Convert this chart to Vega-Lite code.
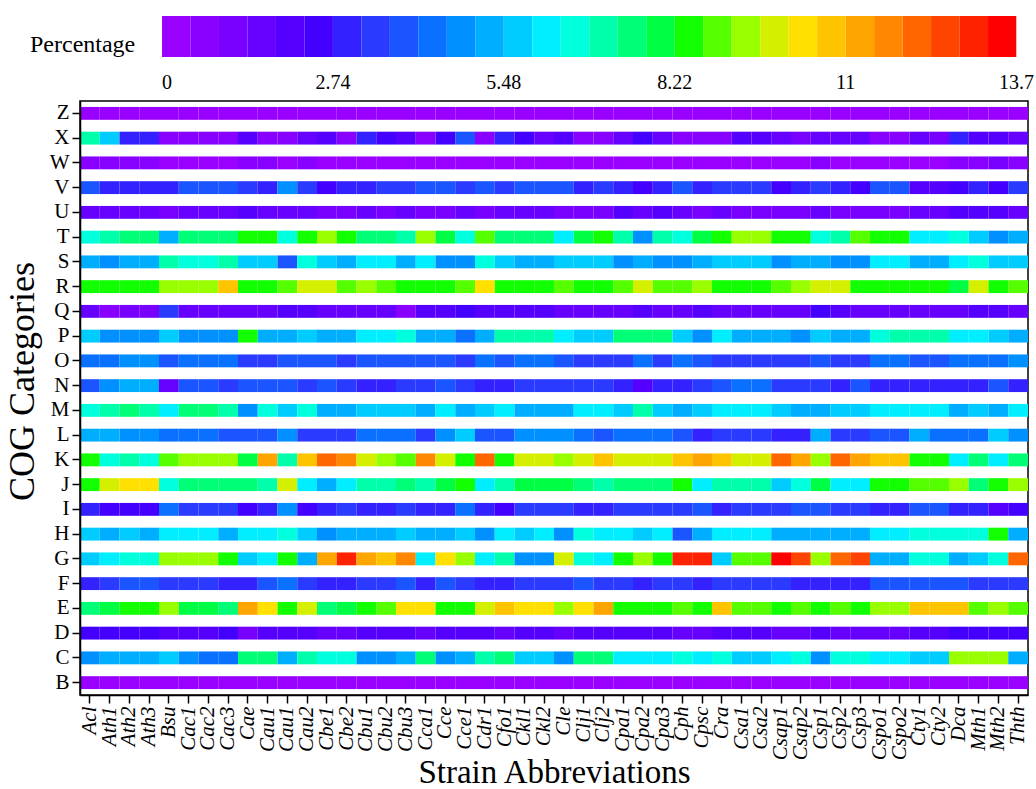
{"$schema":"https://vega.github.io/schema/vega-lite/v6.json","width":948,"height":594,"autosize":"none","padding":{"left":80,"top":101,"right":8,"bottom":94},"background":"white","config":{"view":{"stroke":"black","strokeWidth":1.5},"font":"Liberation Serif"},
"data":{"values":[
{"cog":"Z","strain":"Acl","pct":0.23},{"cog":"Z","strain":"Ath1","pct":0.23},{"cog":"Z","strain":"Ath2","pct":0.23},{"cog":"Z","strain":"Ath3","pct":0.23},{"cog":"Z","strain":"Bsu","pct":0.23},{"cog":"Z","strain":"Cac1","pct":0.23},{"cog":"Z","strain":"Cac2","pct":0.23},{"cog":"Z","strain":"Cac3","pct":0.23},{"cog":"Z","strain":"Cae","pct":0.23},{"cog":"Z","strain":"Cau1","pct":0.23},{"cog":"Z","strain":"Cau1\u200b","pct":0.23},{"cog":"Z","strain":"Cau2","pct":0.23},{"cog":"Z","strain":"Cbe1","pct":0.23},{"cog":"Z","strain":"Cbe2","pct":0.23},{"cog":"Z","strain":"Cbu1","pct":0.23},{"cog":"Z","strain":"Cbu2","pct":0.23},{"cog":"Z","strain":"Cbu3","pct":0.23},{"cog":"Z","strain":"Cca1","pct":0.23},{"cog":"Z","strain":"Cce","pct":0.23},{"cog":"Z","strain":"Cce1","pct":0.23},{"cog":"Z","strain":"Cdr1","pct":0.23},{"cog":"Z","strain":"Cfo1","pct":0.23},{"cog":"Z","strain":"Ckl1","pct":0.23},{"cog":"Z","strain":"Ckl2","pct":0.23},{"cog":"Z","strain":"Cle","pct":0.23},{"cog":"Z","strain":"Clj1","pct":0.23},{"cog":"Z","strain":"Clj2","pct":0.23},{"cog":"Z","strain":"Cpa1","pct":0.23},{"cog":"Z","strain":"Cpa2","pct":0.23},{"cog":"Z","strain":"Cpa3","pct":0.23},{"cog":"Z","strain":"Cph","pct":0.23},{"cog":"Z","strain":"Cpsc","pct":0.23},{"cog":"Z","strain":"Cra","pct":0.23},{"cog":"Z","strain":"Csa1","pct":0.23},{"cog":"Z","strain":"Csa2","pct":0.23},{"cog":"Z","strain":"Csap1","pct":0.23},{"cog":"Z","strain":"Csap2","pct":0.23},{"cog":"Z","strain":"Csp1","pct":0.23},{"cog":"Z","strain":"Csp2","pct":0.23},{"cog":"Z","strain":"Csp3","pct":0.23},{"cog":"Z","strain":"Cspo1","pct":0.23},{"cog":"Z","strain":"Cspo2","pct":0.23},{"cog":"Z","strain":"Cty1","pct":0.23},{"cog":"Z","strain":"Cty2","pct":0.23},{"cog":"Z","strain":"Dca","pct":0.23},{"cog":"Z","strain":"Mth1","pct":0.23},{"cog":"Z","strain":"Mth2","pct":0.23},{"cog":"Z","strain":"Thth","pct":0.23},
{"cog":"X","strain":"Acl","pct":7.08},{"cog":"X","strain":"Ath1","pct":5.71},{"cog":"X","strain":"Ath2","pct":2.97},{"cog":"X","strain":"Ath3","pct":2.97},{"cog":"X","strain":"Bsu","pct":0.68},{"cog":"X","strain":"Cac1","pct":0.68},{"cog":"X","strain":"Cac2","pct":0.68},{"cog":"X","strain":"Cac3","pct":0.68},{"cog":"X","strain":"Cae","pct":2.06},{"cog":"X","strain":"Cau1","pct":0.68},{"cog":"X","strain":"Cau1\u200b","pct":0.68},{"cog":"X","strain":"Cau2","pct":1.6},{"cog":"X","strain":"Cbe1","pct":2.06},{"cog":"X","strain":"Cbe2","pct":0.68},{"cog":"X","strain":"Cbu1","pct":2.97},{"cog":"X","strain":"Cbu2","pct":2.51},{"cog":"X","strain":"Cbu3","pct":2.06},{"cog":"X","strain":"Cca1","pct":0.68},{"cog":"X","strain":"Cce","pct":2.51},{"cog":"X","strain":"Cce1","pct":3.88},{"cog":"X","strain":"Cdr1","pct":0.68},{"cog":"X","strain":"Cfo1","pct":2.97},{"cog":"X","strain":"Ckl1","pct":2.51},{"cog":"X","strain":"Ckl2","pct":1.6},{"cog":"X","strain":"Cle","pct":2.06},{"cog":"X","strain":"Clj1","pct":0.68},{"cog":"X","strain":"Clj2","pct":0.68},{"cog":"X","strain":"Cpa1","pct":1.6},{"cog":"X","strain":"Cpa2","pct":2.51},{"cog":"X","strain":"Cpa3","pct":1.6},{"cog":"X","strain":"Cph","pct":0.68},{"cog":"X","strain":"Cpsc","pct":0.68},{"cog":"X","strain":"Cra","pct":0.68},{"cog":"X","strain":"Csa1","pct":2.06},{"cog":"X","strain":"Csa2","pct":2.06},{"cog":"X","strain":"Csap1","pct":1.6},{"cog":"X","strain":"Csap2","pct":1.14},{"cog":"X","strain":"Csp1","pct":1.6},{"cog":"X","strain":"Csp2","pct":1.6},{"cog":"X","strain":"Csp3","pct":1.6},{"cog":"X","strain":"Cspo1","pct":0.68},{"cog":"X","strain":"Cspo2","pct":0.68},{"cog":"X","strain":"Cty1","pct":1.6},{"cog":"X","strain":"Cty2","pct":1.14},{"cog":"X","strain":"Dca","pct":2.97},{"cog":"X","strain":"Mth1","pct":2.06},{"cog":"X","strain":"Mth2","pct":2.06},{"cog":"X","strain":"Thth","pct":1.6},
{"cog":"W","strain":"Acl","pct":0.68},{"cog":"W","strain":"Ath1","pct":0.68},{"cog":"W","strain":"Ath2","pct":0.68},{"cog":"W","strain":"Ath3","pct":0.68},{"cog":"W","strain":"Bsu","pct":0.23},{"cog":"W","strain":"Cac1","pct":0.23},{"cog":"W","strain":"Cac2","pct":0.23},{"cog":"W","strain":"Cac3","pct":0.23},{"cog":"W","strain":"Cae","pct":0.68},{"cog":"W","strain":"Cau1","pct":0.68},{"cog":"W","strain":"Cau1\u200b","pct":0.23},{"cog":"W","strain":"Cau2","pct":0.68},{"cog":"W","strain":"Cbe1","pct":0.23},{"cog":"W","strain":"Cbe2","pct":0.23},{"cog":"W","strain":"Cbu1","pct":0.23},{"cog":"W","strain":"Cbu2","pct":0.23},{"cog":"W","strain":"Cbu3","pct":0.23},{"cog":"W","strain":"Cca1","pct":0.23},{"cog":"W","strain":"Cce","pct":0.23},{"cog":"W","strain":"Cce1","pct":0.23},{"cog":"W","strain":"Cdr1","pct":0.23},{"cog":"W","strain":"Cfo1","pct":0.23},{"cog":"W","strain":"Ckl1","pct":0.23},{"cog":"W","strain":"Ckl2","pct":0.23},{"cog":"W","strain":"Cle","pct":0.23},{"cog":"W","strain":"Clj1","pct":0.23},{"cog":"W","strain":"Clj2","pct":0.23},{"cog":"W","strain":"Cpa1","pct":0.23},{"cog":"W","strain":"Cpa2","pct":0.23},{"cog":"W","strain":"Cpa3","pct":0.23},{"cog":"W","strain":"Cph","pct":0.23},{"cog":"W","strain":"Cpsc","pct":0.23},{"cog":"W","strain":"Cra","pct":0.23},{"cog":"W","strain":"Csa1","pct":0.23},{"cog":"W","strain":"Csa2","pct":0.23},{"cog":"W","strain":"Csap1","pct":0.23},{"cog":"W","strain":"Csap2","pct":0.23},{"cog":"W","strain":"Csp1","pct":0.68},{"cog":"W","strain":"Csp2","pct":0.23},{"cog":"W","strain":"Csp3","pct":0.23},{"cog":"W","strain":"Cspo1","pct":0.23},{"cog":"W","strain":"Cspo2","pct":0.23},{"cog":"W","strain":"Cty1","pct":0.23},{"cog":"W","strain":"Cty2","pct":0.23},{"cog":"W","strain":"Dca","pct":0.68},{"cog":"W","strain":"Mth1","pct":0.68},{"cog":"W","strain":"Mth2","pct":1.14},{"cog":"W","strain":"Thth","pct":0.68},
{"cog":"V","strain":"Acl","pct":3.88},{"cog":"V","strain":"Ath1","pct":2.97},{"cog":"V","strain":"Ath2","pct":2.97},{"cog":"V","strain":"Ath3","pct":2.97},{"cog":"V","strain":"Bsu","pct":2.97},{"cog":"V","strain":"Cac1","pct":3.88},{"cog":"V","strain":"Cac2","pct":3.88},{"cog":"V","strain":"Cac3","pct":3.88},{"cog":"V","strain":"Cae","pct":3.43},{"cog":"V","strain":"Cau1","pct":2.97},{"cog":"V","strain":"Cau1\u200b","pct":4.8},{"cog":"V","strain":"Cau2","pct":3.43},{"cog":"V","strain":"Cbe1","pct":2.51},{"cog":"V","strain":"Cbe2","pct":2.97},{"cog":"V","strain":"Cbu1","pct":2.97},{"cog":"V","strain":"Cbu2","pct":3.43},{"cog":"V","strain":"Cbu3","pct":3.43},{"cog":"V","strain":"Cca1","pct":3.88},{"cog":"V","strain":"Cce","pct":3.88},{"cog":"V","strain":"Cce1","pct":3.43},{"cog":"V","strain":"Cdr1","pct":3.88},{"cog":"V","strain":"Cfo1","pct":3.43},{"cog":"V","strain":"Ckl1","pct":3.88},{"cog":"V","strain":"Ckl2","pct":3.88},{"cog":"V","strain":"Cle","pct":3.88},{"cog":"V","strain":"Clj1","pct":2.97},{"cog":"V","strain":"Clj2","pct":3.43},{"cog":"V","strain":"Cpa1","pct":2.97},{"cog":"V","strain":"Cpa2","pct":2.51},{"cog":"V","strain":"Cpa3","pct":2.97},{"cog":"V","strain":"Cph","pct":3.88},{"cog":"V","strain":"Cpsc","pct":2.97},{"cog":"V","strain":"Cra","pct":3.43},{"cog":"V","strain":"Csa1","pct":3.43},{"cog":"V","strain":"Csa2","pct":3.43},{"cog":"V","strain":"Csap1","pct":2.51},{"cog":"V","strain":"Csap2","pct":2.97},{"cog":"V","strain":"Csp1","pct":3.43},{"cog":"V","strain":"Csp2","pct":2.97},{"cog":"V","strain":"Csp3","pct":2.51},{"cog":"V","strain":"Cspo1","pct":3.88},{"cog":"V","strain":"Cspo2","pct":3.88},{"cog":"V","strain":"Cty1","pct":2.06},{"cog":"V","strain":"Cty2","pct":2.06},{"cog":"V","strain":"Dca","pct":2.51},{"cog":"V","strain":"Mth1","pct":2.97},{"cog":"V","strain":"Mth2","pct":2.51},{"cog":"V","strain":"Thth","pct":3.43},
{"cog":"U","strain":"Acl","pct":1.6},{"cog":"U","strain":"Ath1","pct":1.6},{"cog":"U","strain":"Ath2","pct":1.6},{"cog":"U","strain":"Ath3","pct":1.6},{"cog":"U","strain":"Bsu","pct":1.14},{"cog":"U","strain":"Cac1","pct":1.6},{"cog":"U","strain":"Cac2","pct":1.6},{"cog":"U","strain":"Cac3","pct":1.6},{"cog":"U","strain":"Cae","pct":2.06},{"cog":"U","strain":"Cau1","pct":1.6},{"cog":"U","strain":"Cau1\u200b","pct":1.6},{"cog":"U","strain":"Cau2","pct":1.6},{"cog":"U","strain":"Cbe1","pct":1.14},{"cog":"U","strain":"Cbe2","pct":1.14},{"cog":"U","strain":"Cbu1","pct":1.6},{"cog":"U","strain":"Cbu2","pct":1.14},{"cog":"U","strain":"Cbu3","pct":1.6},{"cog":"U","strain":"Cca1","pct":1.14},{"cog":"U","strain":"Cce","pct":1.14},{"cog":"U","strain":"Cce1","pct":1.6},{"cog":"U","strain":"Cdr1","pct":1.14},{"cog":"U","strain":"Cfo1","pct":1.6},{"cog":"U","strain":"Ckl1","pct":1.6},{"cog":"U","strain":"Ckl2","pct":1.6},{"cog":"U","strain":"Cle","pct":1.14},{"cog":"U","strain":"Clj1","pct":1.14},{"cog":"U","strain":"Clj2","pct":1.14},{"cog":"U","strain":"Cpa1","pct":2.06},{"cog":"U","strain":"Cpa2","pct":1.6},{"cog":"U","strain":"Cpa3","pct":2.06},{"cog":"U","strain":"Cph","pct":1.6},{"cog":"U","strain":"Cpsc","pct":1.14},{"cog":"U","strain":"Cra","pct":1.6},{"cog":"U","strain":"Csa1","pct":1.14},{"cog":"U","strain":"Csa2","pct":1.14},{"cog":"U","strain":"Csap1","pct":1.14},{"cog":"U","strain":"Csap2","pct":1.14},{"cog":"U","strain":"Csp1","pct":1.6},{"cog":"U","strain":"Csp2","pct":1.14},{"cog":"U","strain":"Csp3","pct":1.14},{"cog":"U","strain":"Cspo1","pct":1.14},{"cog":"U","strain":"Cspo2","pct":1.14},{"cog":"U","strain":"Cty1","pct":1.6},{"cog":"U","strain":"Cty2","pct":1.6},{"cog":"U","strain":"Dca","pct":2.06},{"cog":"U","strain":"Mth1","pct":2.06},{"cog":"U","strain":"Mth2","pct":2.06},{"cog":"U","strain":"Thth","pct":1.6},
{"cog":"T","strain":"Acl","pct":6.62},{"cog":"T","strain":"Ath1","pct":7.08},{"cog":"T","strain":"Ath2","pct":7.54},{"cog":"T","strain":"Ath3","pct":7.54},{"cog":"T","strain":"Bsu","pct":5.25},{"cog":"T","strain":"Cac1","pct":7.54},{"cog":"T","strain":"Cac2","pct":7.54},{"cog":"T","strain":"Cac3","pct":7.54},{"cog":"T","strain":"Cae","pct":8.45},{"cog":"T","strain":"Cau1","pct":8.45},{"cog":"T","strain":"Cau1\u200b","pct":6.62},{"cog":"T","strain":"Cau2","pct":8.45},{"cog":"T","strain":"Cbe1","pct":9.36},{"cog":"T","strain":"Cbe2","pct":8.45},{"cog":"T","strain":"Cbu1","pct":7.54},{"cog":"T","strain":"Cbu2","pct":7.54},{"cog":"T","strain":"Cbu3","pct":7.08},{"cog":"T","strain":"Cca1","pct":9.36},{"cog":"T","strain":"Cce","pct":7.99},{"cog":"T","strain":"Cce1","pct":6.62},{"cog":"T","strain":"Cdr1","pct":8.91},{"cog":"T","strain":"Cfo1","pct":7.54},{"cog":"T","strain":"Ckl1","pct":7.54},{"cog":"T","strain":"Ckl2","pct":7.54},{"cog":"T","strain":"Cle","pct":6.17},{"cog":"T","strain":"Clj1","pct":7.99},{"cog":"T","strain":"Clj2","pct":8.45},{"cog":"T","strain":"Cpa1","pct":7.08},{"cog":"T","strain":"Cpa2","pct":4.8},{"cog":"T","strain":"Cpa3","pct":7.08},{"cog":"T","strain":"Cph","pct":6.62},{"cog":"T","strain":"Cpsc","pct":7.99},{"cog":"T","strain":"Cra","pct":8.45},{"cog":"T","strain":"Csa1","pct":9.36},{"cog":"T","strain":"Csa2","pct":9.36},{"cog":"T","strain":"Csap1","pct":8.45},{"cog":"T","strain":"Csap2","pct":8.45},{"cog":"T","strain":"Csp1","pct":6.62},{"cog":"T","strain":"Csp2","pct":7.08},{"cog":"T","strain":"Csp3","pct":8.91},{"cog":"T","strain":"Cspo1","pct":8.45},{"cog":"T","strain":"Cspo2","pct":8.45},{"cog":"T","strain":"Cty1","pct":6.17},{"cog":"T","strain":"Cty2","pct":6.17},{"cog":"T","strain":"Dca","pct":6.62},{"cog":"T","strain":"Mth1","pct":5.71},{"cog":"T","strain":"Mth2","pct":4.8},{"cog":"T","strain":"Thth","pct":5.25},
{"cog":"S","strain":"Acl","pct":5.25},{"cog":"S","strain":"Ath1","pct":4.8},{"cog":"S","strain":"Ath2","pct":5.25},{"cog":"S","strain":"Ath3","pct":5.25},{"cog":"S","strain":"Bsu","pct":7.08},{"cog":"S","strain":"Cac1","pct":6.62},{"cog":"S","strain":"Cac2","pct":6.62},{"cog":"S","strain":"Cac3","pct":7.08},{"cog":"S","strain":"Cae","pct":5.71},{"cog":"S","strain":"Cau1","pct":5.71},{"cog":"S","strain":"Cau1\u200b","pct":3.88},{"cog":"S","strain":"Cau2","pct":6.62},{"cog":"S","strain":"Cbe1","pct":5.71},{"cog":"S","strain":"Cbe2","pct":5.25},{"cog":"S","strain":"Cbu1","pct":6.17},{"cog":"S","strain":"Cbu2","pct":6.17},{"cog":"S","strain":"Cbu3","pct":5.25},{"cog":"S","strain":"Cca1","pct":6.17},{"cog":"S","strain":"Cce","pct":4.8},{"cog":"S","strain":"Cce1","pct":4.8},{"cog":"S","strain":"Cdr1","pct":6.62},{"cog":"S","strain":"Cfo1","pct":5.71},{"cog":"S","strain":"Ckl1","pct":5.25},{"cog":"S","strain":"Ckl2","pct":5.25},{"cog":"S","strain":"Cle","pct":5.71},{"cog":"S","strain":"Clj1","pct":5.71},{"cog":"S","strain":"Clj2","pct":5.71},{"cog":"S","strain":"Cpa1","pct":4.8},{"cog":"S","strain":"Cpa2","pct":5.25},{"cog":"S","strain":"Cpa3","pct":4.8},{"cog":"S","strain":"Cph","pct":4.8},{"cog":"S","strain":"Cpsc","pct":5.25},{"cog":"S","strain":"Cra","pct":5.71},{"cog":"S","strain":"Csa1","pct":5.71},{"cog":"S","strain":"Csa2","pct":5.71},{"cog":"S","strain":"Csap1","pct":4.8},{"cog":"S","strain":"Csap2","pct":5.25},{"cog":"S","strain":"Csp1","pct":5.25},{"cog":"S","strain":"Csp2","pct":4.8},{"cog":"S","strain":"Csp3","pct":4.8},{"cog":"S","strain":"Cspo1","pct":6.17},{"cog":"S","strain":"Cspo2","pct":6.17},{"cog":"S","strain":"Cty1","pct":5.25},{"cog":"S","strain":"Cty2","pct":5.25},{"cog":"S","strain":"Dca","pct":6.17},{"cog":"S","strain":"Mth1","pct":6.62},{"cog":"S","strain":"Mth2","pct":5.71},{"cog":"S","strain":"Thth","pct":5.71},
{"cog":"R","strain":"Acl","pct":8.45},{"cog":"R","strain":"Ath1","pct":8.45},{"cog":"R","strain":"Ath2","pct":8.45},{"cog":"R","strain":"Ath3","pct":8.45},{"cog":"R","strain":"Bsu","pct":9.36},{"cog":"R","strain":"Cac1","pct":9.36},{"cog":"R","strain":"Cac2","pct":9.36},{"cog":"R","strain":"Cac3","pct":10.73},{"cog":"R","strain":"Cae","pct":8.45},{"cog":"R","strain":"Cau1","pct":8.45},{"cog":"R","strain":"Cau1\u200b","pct":8.91},{"cog":"R","strain":"Cau2","pct":9.82},{"cog":"R","strain":"Cbe1","pct":9.82},{"cog":"R","strain":"Cbe2","pct":8.91},{"cog":"R","strain":"Cbu1","pct":9.36},{"cog":"R","strain":"Cbu2","pct":8.91},{"cog":"R","strain":"Cbu3","pct":8.45},{"cog":"R","strain":"Cca1","pct":8.45},{"cog":"R","strain":"Cce","pct":8.45},{"cog":"R","strain":"Cce1","pct":8.91},{"cog":"R","strain":"Cdr1","pct":10.28},{"cog":"R","strain":"Cfo1","pct":8.45},{"cog":"R","strain":"Ckl1","pct":8.45},{"cog":"R","strain":"Ckl2","pct":8.45},{"cog":"R","strain":"Cle","pct":8.91},{"cog":"R","strain":"Clj1","pct":8.45},{"cog":"R","strain":"Clj2","pct":8.45},{"cog":"R","strain":"Cpa1","pct":8.91},{"cog":"R","strain":"Cpa2","pct":9.82},{"cog":"R","strain":"Cpa3","pct":8.91},{"cog":"R","strain":"Cph","pct":8.91},{"cog":"R","strain":"Cpsc","pct":9.36},{"cog":"R","strain":"Cra","pct":8.45},{"cog":"R","strain":"Csa1","pct":8.45},{"cog":"R","strain":"Csa2","pct":8.45},{"cog":"R","strain":"Csap1","pct":8.91},{"cog":"R","strain":"Csap2","pct":9.36},{"cog":"R","strain":"Csp1","pct":9.82},{"cog":"R","strain":"Csp2","pct":9.82},{"cog":"R","strain":"Csp3","pct":8.45},{"cog":"R","strain":"Cspo1","pct":8.45},{"cog":"R","strain":"Cspo2","pct":8.45},{"cog":"R","strain":"Cty1","pct":8.45},{"cog":"R","strain":"Cty2","pct":8.45},{"cog":"R","strain":"Dca","pct":7.99},{"cog":"R","strain":"Mth1","pct":9.82},{"cog":"R","strain":"Mth2","pct":8.45},{"cog":"R","strain":"Thth","pct":8.91},
{"cog":"Q","strain":"Acl","pct":1.6},{"cog":"Q","strain":"Ath1","pct":0.68},{"cog":"Q","strain":"Ath2","pct":1.14},{"cog":"Q","strain":"Ath3","pct":1.14},{"cog":"Q","strain":"Bsu","pct":3.43},{"cog":"Q","strain":"Cac1","pct":1.6},{"cog":"Q","strain":"Cac2","pct":1.6},{"cog":"Q","strain":"Cac3","pct":1.6},{"cog":"Q","strain":"Cae","pct":1.6},{"cog":"Q","strain":"Cau1","pct":1.6},{"cog":"Q","strain":"Cau1\u200b","pct":2.06},{"cog":"Q","strain":"Cau2","pct":2.06},{"cog":"Q","strain":"Cbe1","pct":1.6},{"cog":"Q","strain":"Cbe2","pct":1.6},{"cog":"Q","strain":"Cbu1","pct":1.6},{"cog":"Q","strain":"Cbu2","pct":1.6},{"cog":"Q","strain":"Cbu3","pct":0.68},{"cog":"Q","strain":"Cca1","pct":2.06},{"cog":"Q","strain":"Cce","pct":2.06},{"cog":"Q","strain":"Cce1","pct":2.51},{"cog":"Q","strain":"Cdr1","pct":2.06},{"cog":"Q","strain":"Cfo1","pct":2.06},{"cog":"Q","strain":"Ckl1","pct":2.06},{"cog":"Q","strain":"Ckl2","pct":2.06},{"cog":"Q","strain":"Cle","pct":1.6},{"cog":"Q","strain":"Clj1","pct":1.6},{"cog":"Q","strain":"Clj2","pct":1.6},{"cog":"Q","strain":"Cpa1","pct":1.6},{"cog":"Q","strain":"Cpa2","pct":2.06},{"cog":"Q","strain":"Cpa3","pct":1.6},{"cog":"Q","strain":"Cph","pct":1.6},{"cog":"Q","strain":"Cpsc","pct":2.06},{"cog":"Q","strain":"Cra","pct":1.6},{"cog":"Q","strain":"Csa1","pct":1.6},{"cog":"Q","strain":"Csa2","pct":1.6},{"cog":"Q","strain":"Csap1","pct":1.6},{"cog":"Q","strain":"Csap2","pct":1.6},{"cog":"Q","strain":"Csp1","pct":2.51},{"cog":"Q","strain":"Csp2","pct":2.06},{"cog":"Q","strain":"Csp3","pct":1.6},{"cog":"Q","strain":"Cspo1","pct":1.6},{"cog":"Q","strain":"Cspo2","pct":1.6},{"cog":"Q","strain":"Cty1","pct":1.6},{"cog":"Q","strain":"Cty2","pct":1.6},{"cog":"Q","strain":"Dca","pct":1.6},{"cog":"Q","strain":"Mth1","pct":2.06},{"cog":"Q","strain":"Mth2","pct":2.06},{"cog":"Q","strain":"Thth","pct":1.6},
{"cog":"P","strain":"Acl","pct":5.71},{"cog":"P","strain":"Ath1","pct":4.8},{"cog":"P","strain":"Ath2","pct":4.8},{"cog":"P","strain":"Ath3","pct":4.8},{"cog":"P","strain":"Bsu","pct":5.71},{"cog":"P","strain":"Cac1","pct":4.8},{"cog":"P","strain":"Cac2","pct":4.8},{"cog":"P","strain":"Cac3","pct":4.8},{"cog":"P","strain":"Cae","pct":8.45},{"cog":"P","strain":"Cau1","pct":5.25},{"cog":"P","strain":"Cau1\u200b","pct":5.25},{"cog":"P","strain":"Cau2","pct":5.71},{"cog":"P","strain":"Cbe1","pct":5.25},{"cog":"P","strain":"Cbe2","pct":5.25},{"cog":"P","strain":"Cbu1","pct":6.17},{"cog":"P","strain":"Cbu2","pct":6.17},{"cog":"P","strain":"Cbu3","pct":6.62},{"cog":"P","strain":"Cca1","pct":5.25},{"cog":"P","strain":"Cce","pct":5.25},{"cog":"P","strain":"Cce1","pct":4.34},{"cog":"P","strain":"Cdr1","pct":5.25},{"cog":"P","strain":"Cfo1","pct":7.08},{"cog":"P","strain":"Ckl1","pct":7.08},{"cog":"P","strain":"Ckl2","pct":7.08},{"cog":"P","strain":"Cle","pct":6.17},{"cog":"P","strain":"Clj1","pct":5.71},{"cog":"P","strain":"Clj2","pct":5.71},{"cog":"P","strain":"Cpa1","pct":7.54},{"cog":"P","strain":"Cpa2","pct":7.54},{"cog":"P","strain":"Cpa3","pct":7.54},{"cog":"P","strain":"Cph","pct":5.71},{"cog":"P","strain":"Cpsc","pct":4.8},{"cog":"P","strain":"Cra","pct":6.17},{"cog":"P","strain":"Csa1","pct":5.25},{"cog":"P","strain":"Csa2","pct":5.25},{"cog":"P","strain":"Csap1","pct":5.25},{"cog":"P","strain":"Csap2","pct":4.8},{"cog":"P","strain":"Csp1","pct":5.71},{"cog":"P","strain":"Csp2","pct":5.25},{"cog":"P","strain":"Csp3","pct":5.25},{"cog":"P","strain":"Cspo1","pct":6.62},{"cog":"P","strain":"Cspo2","pct":7.08},{"cog":"P","strain":"Cty1","pct":7.08},{"cog":"P","strain":"Cty2","pct":7.08},{"cog":"P","strain":"Dca","pct":6.17},{"cog":"P","strain":"Mth1","pct":6.17},{"cog":"P","strain":"Mth2","pct":5.71},{"cog":"P","strain":"Thth","pct":5.25},
{"cog":"O","strain":"Acl","pct":4.34},{"cog":"O","strain":"Ath1","pct":4.34},{"cog":"O","strain":"Ath2","pct":4.8},{"cog":"O","strain":"Ath3","pct":4.8},{"cog":"O","strain":"Bsu","pct":3.88},{"cog":"O","strain":"Cac1","pct":4.34},{"cog":"O","strain":"Cac2","pct":4.34},{"cog":"O","strain":"Cac3","pct":4.34},{"cog":"O","strain":"Cae","pct":3.43},{"cog":"O","strain":"Cau1","pct":3.43},{"cog":"O","strain":"Cau1\u200b","pct":3.88},{"cog":"O","strain":"Cau2","pct":3.88},{"cog":"O","strain":"Cbe1","pct":3.88},{"cog":"O","strain":"Cbe2","pct":3.43},{"cog":"O","strain":"Cbu1","pct":3.88},{"cog":"O","strain":"Cbu2","pct":3.88},{"cog":"O","strain":"Cbu3","pct":3.88},{"cog":"O","strain":"Cca1","pct":3.88},{"cog":"O","strain":"Cce","pct":3.88},{"cog":"O","strain":"Cce1","pct":3.43},{"cog":"O","strain":"Cdr1","pct":4.34},{"cog":"O","strain":"Cfo1","pct":3.88},{"cog":"O","strain":"Ckl1","pct":4.34},{"cog":"O","strain":"Ckl2","pct":4.34},{"cog":"O","strain":"Cle","pct":3.88},{"cog":"O","strain":"Clj1","pct":3.43},{"cog":"O","strain":"Clj2","pct":3.43},{"cog":"O","strain":"Cpa1","pct":3.43},{"cog":"O","strain":"Cpa2","pct":4.34},{"cog":"O","strain":"Cpa3","pct":3.43},{"cog":"O","strain":"Cph","pct":4.34},{"cog":"O","strain":"Cpsc","pct":3.88},{"cog":"O","strain":"Cra","pct":3.43},{"cog":"O","strain":"Csa1","pct":3.43},{"cog":"O","strain":"Csa2","pct":3.43},{"cog":"O","strain":"Csap1","pct":3.43},{"cog":"O","strain":"Csap2","pct":3.43},{"cog":"O","strain":"Csp1","pct":3.88},{"cog":"O","strain":"Csp2","pct":3.43},{"cog":"O","strain":"Csp3","pct":3.43},{"cog":"O","strain":"Cspo1","pct":4.34},{"cog":"O","strain":"Cspo2","pct":4.34},{"cog":"O","strain":"Cty1","pct":3.88},{"cog":"O","strain":"Cty2","pct":3.88},{"cog":"O","strain":"Dca","pct":4.34},{"cog":"O","strain":"Mth1","pct":4.34},{"cog":"O","strain":"Mth2","pct":4.34},{"cog":"O","strain":"Thth","pct":4.8},
{"cog":"N","strain":"Acl","pct":3.88},{"cog":"N","strain":"Ath1","pct":4.8},{"cog":"N","strain":"Ath2","pct":5.25},{"cog":"N","strain":"Ath3","pct":5.25},{"cog":"N","strain":"Bsu","pct":1.6},{"cog":"N","strain":"Cac1","pct":3.88},{"cog":"N","strain":"Cac2","pct":3.88},{"cog":"N","strain":"Cac3","pct":3.43},{"cog":"N","strain":"Cae","pct":3.88},{"cog":"N","strain":"Cau1","pct":3.88},{"cog":"N","strain":"Cau1\u200b","pct":3.88},{"cog":"N","strain":"Cau2","pct":3.43},{"cog":"N","strain":"Cbe1","pct":3.88},{"cog":"N","strain":"Cbe2","pct":3.43},{"cog":"N","strain":"Cbu1","pct":2.97},{"cog":"N","strain":"Cbu2","pct":2.97},{"cog":"N","strain":"Cbu3","pct":3.43},{"cog":"N","strain":"Cca1","pct":3.43},{"cog":"N","strain":"Cce","pct":3.88},{"cog":"N","strain":"Cce1","pct":3.43},{"cog":"N","strain":"Cdr1","pct":2.97},{"cog":"N","strain":"Cfo1","pct":2.97},{"cog":"N","strain":"Ckl1","pct":3.43},{"cog":"N","strain":"Ckl2","pct":3.43},{"cog":"N","strain":"Cle","pct":3.43},{"cog":"N","strain":"Clj1","pct":3.43},{"cog":"N","strain":"Clj2","pct":3.43},{"cog":"N","strain":"Cpa1","pct":2.97},{"cog":"N","strain":"Cpa2","pct":2.06},{"cog":"N","strain":"Cpa3","pct":2.97},{"cog":"N","strain":"Cph","pct":2.97},{"cog":"N","strain":"Cpsc","pct":3.43},{"cog":"N","strain":"Cra","pct":3.88},{"cog":"N","strain":"Csa1","pct":4.34},{"cog":"N","strain":"Csa2","pct":4.34},{"cog":"N","strain":"Csap1","pct":3.43},{"cog":"N","strain":"Csap2","pct":3.43},{"cog":"N","strain":"Csp1","pct":3.43},{"cog":"N","strain":"Csp2","pct":2.97},{"cog":"N","strain":"Csp3","pct":3.88},{"cog":"N","strain":"Cspo1","pct":2.97},{"cog":"N","strain":"Cspo2","pct":2.97},{"cog":"N","strain":"Cty1","pct":2.97},{"cog":"N","strain":"Cty2","pct":2.97},{"cog":"N","strain":"Dca","pct":2.97},{"cog":"N","strain":"Mth1","pct":2.97},{"cog":"N","strain":"Mth2","pct":3.88},{"cog":"N","strain":"Thth","pct":2.97},
{"cog":"M","strain":"Acl","pct":6.62},{"cog":"M","strain":"Ath1","pct":7.08},{"cog":"M","strain":"Ath2","pct":7.54},{"cog":"M","strain":"Ath3","pct":7.08},{"cog":"M","strain":"Bsu","pct":6.17},{"cog":"M","strain":"Cac1","pct":7.54},{"cog":"M","strain":"Cac2","pct":7.54},{"cog":"M","strain":"Cac3","pct":7.08},{"cog":"M","strain":"Cae","pct":4.8},{"cog":"M","strain":"Cau1","pct":6.62},{"cog":"M","strain":"Cau1\u200b","pct":5.71},{"cog":"M","strain":"Cau2","pct":6.62},{"cog":"M","strain":"Cbe1","pct":5.25},{"cog":"M","strain":"Cbe2","pct":5.25},{"cog":"M","strain":"Cbu1","pct":5.71},{"cog":"M","strain":"Cbu2","pct":5.71},{"cog":"M","strain":"Cbu3","pct":5.71},{"cog":"M","strain":"Cca1","pct":5.25},{"cog":"M","strain":"Cce","pct":6.17},{"cog":"M","strain":"Cce1","pct":5.25},{"cog":"M","strain":"Cdr1","pct":5.71},{"cog":"M","strain":"Cfo1","pct":6.17},{"cog":"M","strain":"Ckl1","pct":5.25},{"cog":"M","strain":"Ckl2","pct":5.25},{"cog":"M","strain":"Cle","pct":5.25},{"cog":"M","strain":"Clj1","pct":6.17},{"cog":"M","strain":"Clj2","pct":6.17},{"cog":"M","strain":"Cpa1","pct":5.71},{"cog":"M","strain":"Cpa2","pct":7.08},{"cog":"M","strain":"Cpa3","pct":5.71},{"cog":"M","strain":"Cph","pct":5.25},{"cog":"M","strain":"Cpsc","pct":5.71},{"cog":"M","strain":"Cra","pct":6.17},{"cog":"M","strain":"Csa1","pct":6.17},{"cog":"M","strain":"Csa2","pct":6.17},{"cog":"M","strain":"Csap1","pct":5.71},{"cog":"M","strain":"Csap2","pct":5.25},{"cog":"M","strain":"Csp1","pct":5.25},{"cog":"M","strain":"Csp2","pct":5.71},{"cog":"M","strain":"Csp3","pct":5.71},{"cog":"M","strain":"Cspo1","pct":6.17},{"cog":"M","strain":"Cspo2","pct":6.17},{"cog":"M","strain":"Cty1","pct":6.17},{"cog":"M","strain":"Cty2","pct":6.17},{"cog":"M","strain":"Dca","pct":5.25},{"cog":"M","strain":"Mth1","pct":5.71},{"cog":"M","strain":"Mth2","pct":5.25},{"cog":"M","strain":"Thth","pct":6.17},
{"cog":"L","strain":"Acl","pct":5.25},{"cog":"L","strain":"Ath1","pct":5.25},{"cog":"L","strain":"Ath2","pct":4.8},{"cog":"L","strain":"Ath3","pct":4.8},{"cog":"L","strain":"Bsu","pct":4.34},{"cog":"L","strain":"Cac1","pct":4.34},{"cog":"L","strain":"Cac2","pct":4.34},{"cog":"L","strain":"Cac3","pct":3.88},{"cog":"L","strain":"Cae","pct":3.88},{"cog":"L","strain":"Cau1","pct":3.88},{"cog":"L","strain":"Cau1\u200b","pct":4.8},{"cog":"L","strain":"Cau2","pct":3.43},{"cog":"L","strain":"Cbe1","pct":3.43},{"cog":"L","strain":"Cbe2","pct":3.43},{"cog":"L","strain":"Cbu1","pct":4.34},{"cog":"L","strain":"Cbu2","pct":4.34},{"cog":"L","strain":"Cbu3","pct":4.34},{"cog":"L","strain":"Cca1","pct":3.43},{"cog":"L","strain":"Cce","pct":4.8},{"cog":"L","strain":"Cce1","pct":5.71},{"cog":"L","strain":"Cdr1","pct":3.88},{"cog":"L","strain":"Cfo1","pct":3.88},{"cog":"L","strain":"Ckl1","pct":4.8},{"cog":"L","strain":"Ckl2","pct":4.8},{"cog":"L","strain":"Cle","pct":4.8},{"cog":"L","strain":"Clj1","pct":4.34},{"cog":"L","strain":"Clj2","pct":3.88},{"cog":"L","strain":"Cpa1","pct":4.34},{"cog":"L","strain":"Cpa2","pct":4.34},{"cog":"L","strain":"Cpa3","pct":4.34},{"cog":"L","strain":"Cph","pct":3.88},{"cog":"L","strain":"Cpsc","pct":2.97},{"cog":"L","strain":"Cra","pct":3.43},{"cog":"L","strain":"Csa1","pct":3.43},{"cog":"L","strain":"Csa2","pct":3.43},{"cog":"L","strain":"Csap1","pct":2.97},{"cog":"L","strain":"Csap2","pct":2.97},{"cog":"L","strain":"Csp1","pct":5.25},{"cog":"L","strain":"Csp2","pct":3.43},{"cog":"L","strain":"Csp3","pct":3.43},{"cog":"L","strain":"Cspo1","pct":3.88},{"cog":"L","strain":"Cspo2","pct":3.88},{"cog":"L","strain":"Cty1","pct":5.25},{"cog":"L","strain":"Cty2","pct":4.34},{"cog":"L","strain":"Dca","pct":4.34},{"cog":"L","strain":"Mth1","pct":4.34},{"cog":"L","strain":"Mth2","pct":5.71},{"cog":"L","strain":"Thth","pct":4.8},
{"cog":"K","strain":"Acl","pct":8.45},{"cog":"K","strain":"Ath1","pct":6.62},{"cog":"K","strain":"Ath2","pct":7.08},{"cog":"K","strain":"Ath3","pct":6.62},{"cog":"K","strain":"Bsu","pct":8.91},{"cog":"K","strain":"Cac1","pct":9.36},{"cog":"K","strain":"Cac2","pct":9.36},{"cog":"K","strain":"Cac3","pct":9.36},{"cog":"K","strain":"Cae","pct":7.99},{"cog":"K","strain":"Cau1","pct":11.19},{"cog":"K","strain":"Cau1\u200b","pct":7.08},{"cog":"K","strain":"Cau2","pct":10.73},{"cog":"K","strain":"Cbe1","pct":12.1},{"cog":"K","strain":"Cbe2","pct":11.65},{"cog":"K","strain":"Cbu1","pct":9.82},{"cog":"K","strain":"Cbu2","pct":9.36},{"cog":"K","strain":"Cbu3","pct":8.91},{"cog":"K","strain":"Cca1","pct":11.65},{"cog":"K","strain":"Cce","pct":9.82},{"cog":"K","strain":"Cce1","pct":8.45},{"cog":"K","strain":"Cdr1","pct":12.1},{"cog":"K","strain":"Cfo1","pct":8.45},{"cog":"K","strain":"Ckl1","pct":9.82},{"cog":"K","strain":"Ckl2","pct":9.82},{"cog":"K","strain":"Cle","pct":9.36},{"cog":"K","strain":"Clj1","pct":9.82},{"cog":"K","strain":"Clj2","pct":10.73},{"cog":"K","strain":"Cpa1","pct":9.82},{"cog":"K","strain":"Cpa2","pct":9.82},{"cog":"K","strain":"Cpa3","pct":9.82},{"cog":"K","strain":"Cph","pct":10.73},{"cog":"K","strain":"Cpsc","pct":11.19},{"cog":"K","strain":"Cra","pct":10.73},{"cog":"K","strain":"Csa1","pct":9.82},{"cog":"K","strain":"Csa2","pct":9.82},{"cog":"K","strain":"Csap1","pct":12.1},{"cog":"K","strain":"Csap2","pct":11.19},{"cog":"K","strain":"Csp1","pct":9.36},{"cog":"K","strain":"Csp2","pct":12.1},{"cog":"K","strain":"Csp3","pct":11.19},{"cog":"K","strain":"Cspo1","pct":10.73},{"cog":"K","strain":"Cspo2","pct":10.73},{"cog":"K","strain":"Cty1","pct":8.45},{"cog":"K","strain":"Cty2","pct":8.45},{"cog":"K","strain":"Dca","pct":6.17},{"cog":"K","strain":"Mth1","pct":7.54},{"cog":"K","strain":"Mth2","pct":6.17},{"cog":"K","strain":"Thth","pct":7.54},
{"cog":"J","strain":"Acl","pct":8.45},{"cog":"J","strain":"Ath1","pct":9.82},{"cog":"J","strain":"Ath2","pct":10.28},{"cog":"J","strain":"Ath3","pct":10.28},{"cog":"J","strain":"Bsu","pct":6.62},{"cog":"J","strain":"Cac1","pct":7.54},{"cog":"J","strain":"Cac2","pct":7.54},{"cog":"J","strain":"Cac3","pct":7.54},{"cog":"J","strain":"Cae","pct":7.54},{"cog":"J","strain":"Cau1","pct":7.08},{"cog":"J","strain":"Cau1\u200b","pct":9.82},{"cog":"J","strain":"Cau2","pct":6.17},{"cog":"J","strain":"Cbe1","pct":5.25},{"cog":"J","strain":"Cbe2","pct":6.17},{"cog":"J","strain":"Cbu1","pct":7.08},{"cog":"J","strain":"Cbu2","pct":7.08},{"cog":"J","strain":"Cbu3","pct":7.54},{"cog":"J","strain":"Cca1","pct":7.08},{"cog":"J","strain":"Cce","pct":7.99},{"cog":"J","strain":"Cce1","pct":8.45},{"cog":"J","strain":"Cdr1","pct":6.17},{"cog":"J","strain":"Cfo1","pct":7.08},{"cog":"J","strain":"Ckl1","pct":7.99},{"cog":"J","strain":"Ckl2","pct":7.99},{"cog":"J","strain":"Cle","pct":7.99},{"cog":"J","strain":"Clj1","pct":7.54},{"cog":"J","strain":"Clj2","pct":7.08},{"cog":"J","strain":"Cpa1","pct":7.54},{"cog":"J","strain":"Cpa2","pct":7.54},{"cog":"J","strain":"Cpa3","pct":7.54},{"cog":"J","strain":"Cph","pct":8.45},{"cog":"J","strain":"Cpsc","pct":6.17},{"cog":"J","strain":"Cra","pct":7.08},{"cog":"J","strain":"Csa1","pct":7.08},{"cog":"J","strain":"Csa2","pct":7.08},{"cog":"J","strain":"Csap1","pct":5.71},{"cog":"J","strain":"Csap2","pct":6.62},{"cog":"J","strain":"Csp1","pct":7.99},{"cog":"J","strain":"Csp2","pct":6.17},{"cog":"J","strain":"Csp3","pct":6.17},{"cog":"J","strain":"Cspo1","pct":8.45},{"cog":"J","strain":"Cspo2","pct":8.45},{"cog":"J","strain":"Cty1","pct":8.91},{"cog":"J","strain":"Cty2","pct":8.91},{"cog":"J","strain":"Dca","pct":9.36},{"cog":"J","strain":"Mth1","pct":7.54},{"cog":"J","strain":"Mth2","pct":8.45},{"cog":"J","strain":"Thth","pct":9.36},
{"cog":"I","strain":"Acl","pct":2.97},{"cog":"I","strain":"Ath1","pct":2.51},{"cog":"I","strain":"Ath2","pct":2.51},{"cog":"I","strain":"Ath3","pct":2.51},{"cog":"I","strain":"Bsu","pct":4.34},{"cog":"I","strain":"Cac1","pct":3.43},{"cog":"I","strain":"Cac2","pct":3.43},{"cog":"I","strain":"Cac3","pct":3.43},{"cog":"I","strain":"Cae","pct":2.51},{"cog":"I","strain":"Cau1","pct":2.97},{"cog":"I","strain":"Cau1\u200b","pct":4.8},{"cog":"I","strain":"Cau2","pct":2.51},{"cog":"I","strain":"Cbe1","pct":2.97},{"cog":"I","strain":"Cbe2","pct":3.43},{"cog":"I","strain":"Cbu1","pct":2.97},{"cog":"I","strain":"Cbu2","pct":2.97},{"cog":"I","strain":"Cbu3","pct":3.43},{"cog":"I","strain":"Cca1","pct":2.97},{"cog":"I","strain":"Cce","pct":2.97},{"cog":"I","strain":"Cce1","pct":4.34},{"cog":"I","strain":"Cdr1","pct":2.97},{"cog":"I","strain":"Cfo1","pct":2.51},{"cog":"I","strain":"Ckl1","pct":3.43},{"cog":"I","strain":"Ckl2","pct":3.43},{"cog":"I","strain":"Cle","pct":3.43},{"cog":"I","strain":"Clj1","pct":2.97},{"cog":"I","strain":"Clj2","pct":2.97},{"cog":"I","strain":"Cpa1","pct":3.43},{"cog":"I","strain":"Cpa2","pct":3.43},{"cog":"I","strain":"Cpa3","pct":3.43},{"cog":"I","strain":"Cph","pct":3.43},{"cog":"I","strain":"Cpsc","pct":3.88},{"cog":"I","strain":"Cra","pct":2.97},{"cog":"I","strain":"Csa1","pct":3.43},{"cog":"I","strain":"Csa2","pct":3.43},{"cog":"I","strain":"Csap1","pct":3.43},{"cog":"I","strain":"Csap2","pct":3.88},{"cog":"I","strain":"Csp1","pct":3.88},{"cog":"I","strain":"Csp2","pct":3.43},{"cog":"I","strain":"Csp3","pct":3.43},{"cog":"I","strain":"Cspo1","pct":2.97},{"cog":"I","strain":"Cspo2","pct":2.97},{"cog":"I","strain":"Cty1","pct":3.88},{"cog":"I","strain":"Cty2","pct":3.88},{"cog":"I","strain":"Dca","pct":2.97},{"cog":"I","strain":"Mth1","pct":2.97},{"cog":"I","strain":"Mth2","pct":2.06},{"cog":"I","strain":"Thth","pct":2.51},
{"cog":"H","strain":"Acl","pct":5.71},{"cog":"H","strain":"Ath1","pct":5.25},{"cog":"H","strain":"Ath2","pct":5.71},{"cog":"H","strain":"Ath3","pct":5.25},{"cog":"H","strain":"Bsu","pct":6.17},{"cog":"H","strain":"Cac1","pct":6.17},{"cog":"H","strain":"Cac2","pct":6.17},{"cog":"H","strain":"Cac3","pct":5.25},{"cog":"H","strain":"Cae","pct":6.17},{"cog":"H","strain":"Cau1","pct":6.17},{"cog":"H","strain":"Cau1\u200b","pct":6.62},{"cog":"H","strain":"Cau2","pct":5.71},{"cog":"H","strain":"Cbe1","pct":4.8},{"cog":"H","strain":"Cbe2","pct":5.25},{"cog":"H","strain":"Cbu1","pct":5.25},{"cog":"H","strain":"Cbu2","pct":5.25},{"cog":"H","strain":"Cbu3","pct":5.71},{"cog":"H","strain":"Cca1","pct":5.25},{"cog":"H","strain":"Cce","pct":5.25},{"cog":"H","strain":"Cce1","pct":5.71},{"cog":"H","strain":"Cdr1","pct":4.8},{"cog":"H","strain":"Cfo1","pct":6.17},{"cog":"H","strain":"Ckl1","pct":5.71},{"cog":"H","strain":"Ckl2","pct":6.17},{"cog":"H","strain":"Cle","pct":4.8},{"cog":"H","strain":"Clj1","pct":6.62},{"cog":"H","strain":"Clj2","pct":6.17},{"cog":"H","strain":"Cpa1","pct":6.17},{"cog":"H","strain":"Cpa2","pct":5.71},{"cog":"H","strain":"Cpa3","pct":6.17},{"cog":"H","strain":"Cph","pct":3.88},{"cog":"H","strain":"Cpsc","pct":5.25},{"cog":"H","strain":"Cra","pct":6.17},{"cog":"H","strain":"Csa1","pct":6.17},{"cog":"H","strain":"Csa2","pct":6.17},{"cog":"H","strain":"Csap1","pct":5.25},{"cog":"H","strain":"Csap2","pct":5.25},{"cog":"H","strain":"Csp1","pct":5.25},{"cog":"H","strain":"Csp2","pct":5.25},{"cog":"H","strain":"Csp3","pct":5.25},{"cog":"H","strain":"Cspo1","pct":6.17},{"cog":"H","strain":"Cspo2","pct":6.17},{"cog":"H","strain":"Cty1","pct":6.62},{"cog":"H","strain":"Cty2","pct":6.62},{"cog":"H","strain":"Dca","pct":6.62},{"cog":"H","strain":"Mth1","pct":6.62},{"cog":"H","strain":"Mth2","pct":8.45},{"cog":"H","strain":"Thth","pct":5.25},
{"cog":"G","strain":"Acl","pct":5.71},{"cog":"G","strain":"Ath1","pct":6.17},{"cog":"G","strain":"Ath2","pct":6.62},{"cog":"G","strain":"Ath3","pct":6.62},{"cog":"G","strain":"Bsu","pct":9.36},{"cog":"G","strain":"Cac1","pct":9.36},{"cog":"G","strain":"Cac2","pct":9.36},{"cog":"G","strain":"Cac3","pct":8.45},{"cog":"G","strain":"Cae","pct":5.71},{"cog":"G","strain":"Cau1","pct":6.17},{"cog":"G","strain":"Cau1\u200b","pct":8.45},{"cog":"G","strain":"Cau2","pct":5.25},{"cog":"G","strain":"Cbe1","pct":11.19},{"cog":"G","strain":"Cbe2","pct":13.02},{"cog":"G","strain":"Cbu1","pct":11.19},{"cog":"G","strain":"Cbu2","pct":10.73},{"cog":"G","strain":"Cbu3","pct":11.65},{"cog":"G","strain":"Cca1","pct":6.17},{"cog":"G","strain":"Cce","pct":10.28},{"cog":"G","strain":"Cce1","pct":9.36},{"cog":"G","strain":"Cdr1","pct":6.17},{"cog":"G","strain":"Cfo1","pct":7.08},{"cog":"G","strain":"Ckl1","pct":4.8},{"cog":"G","strain":"Ckl2","pct":4.8},{"cog":"G","strain":"Cle","pct":9.82},{"cog":"G","strain":"Clj1","pct":6.62},{"cog":"G","strain":"Clj2","pct":6.17},{"cog":"G","strain":"Cpa1","pct":8.45},{"cog":"G","strain":"Cpa2","pct":9.36},{"cog":"G","strain":"Cpa3","pct":8.45},{"cog":"G","strain":"Cph","pct":13.02},{"cog":"G","strain":"Cpsc","pct":13.02},{"cog":"G","strain":"Cra","pct":5.71},{"cog":"G","strain":"Csa1","pct":8.91},{"cog":"G","strain":"Csa2","pct":8.91},{"cog":"G","strain":"Csap1","pct":13.47},{"cog":"G","strain":"Csap2","pct":12.56},{"cog":"G","strain":"Csp1","pct":9.36},{"cog":"G","strain":"Csp2","pct":12.1},{"cog":"G","strain":"Csp3","pct":12.56},{"cog":"G","strain":"Cspo1","pct":5.25},{"cog":"G","strain":"Cspo2","pct":5.25},{"cog":"G","strain":"Cty1","pct":6.62},{"cog":"G","strain":"Cty2","pct":6.62},{"cog":"G","strain":"Dca","pct":5.25},{"cog":"G","strain":"Mth1","pct":5.71},{"cog":"G","strain":"Mth2","pct":6.62},{"cog":"G","strain":"Thth","pct":12.1},
{"cog":"F","strain":"Acl","pct":2.97},{"cog":"F","strain":"Ath1","pct":3.43},{"cog":"F","strain":"Ath2","pct":3.88},{"cog":"F","strain":"Ath3","pct":3.88},{"cog":"F","strain":"Bsu","pct":3.43},{"cog":"F","strain":"Cac1","pct":3.43},{"cog":"F","strain":"Cac2","pct":3.43},{"cog":"F","strain":"Cac3","pct":2.97},{"cog":"F","strain":"Cae","pct":2.97},{"cog":"F","strain":"Cau1","pct":3.88},{"cog":"F","strain":"Cau1\u200b","pct":4.34},{"cog":"F","strain":"Cau2","pct":3.43},{"cog":"F","strain":"Cbe1","pct":2.97},{"cog":"F","strain":"Cbe2","pct":2.97},{"cog":"F","strain":"Cbu1","pct":3.43},{"cog":"F","strain":"Cbu2","pct":3.43},{"cog":"F","strain":"Cbu3","pct":3.88},{"cog":"F","strain":"Cca1","pct":2.97},{"cog":"F","strain":"Cce","pct":3.88},{"cog":"F","strain":"Cce1","pct":3.43},{"cog":"F","strain":"Cdr1","pct":2.97},{"cog":"F","strain":"Cfo1","pct":2.97},{"cog":"F","strain":"Ckl1","pct":3.43},{"cog":"F","strain":"Ckl2","pct":3.43},{"cog":"F","strain":"Cle","pct":3.43},{"cog":"F","strain":"Clj1","pct":3.88},{"cog":"F","strain":"Clj2","pct":3.43},{"cog":"F","strain":"Cpa1","pct":3.43},{"cog":"F","strain":"Cpa2","pct":2.97},{"cog":"F","strain":"Cpa3","pct":3.43},{"cog":"F","strain":"Cph","pct":3.43},{"cog":"F","strain":"Cpsc","pct":2.97},{"cog":"F","strain":"Cra","pct":3.43},{"cog":"F","strain":"Csa1","pct":3.43},{"cog":"F","strain":"Csa2","pct":3.43},{"cog":"F","strain":"Csap1","pct":3.43},{"cog":"F","strain":"Csap2","pct":2.97},{"cog":"F","strain":"Csp1","pct":2.97},{"cog":"F","strain":"Csp2","pct":2.97},{"cog":"F","strain":"Csp3","pct":2.97},{"cog":"F","strain":"Cspo1","pct":3.88},{"cog":"F","strain":"Cspo2","pct":3.88},{"cog":"F","strain":"Cty1","pct":3.88},{"cog":"F","strain":"Cty2","pct":3.88},{"cog":"F","strain":"Dca","pct":3.88},{"cog":"F","strain":"Mth1","pct":3.43},{"cog":"F","strain":"Mth2","pct":3.43},{"cog":"F","strain":"Thth","pct":3.43},
{"cog":"E","strain":"Acl","pct":7.54},{"cog":"E","strain":"Ath1","pct":7.99},{"cog":"E","strain":"Ath2","pct":8.45},{"cog":"E","strain":"Ath3","pct":8.45},{"cog":"E","strain":"Bsu","pct":9.36},{"cog":"E","strain":"Cac1","pct":7.99},{"cog":"E","strain":"Cac2","pct":7.99},{"cog":"E","strain":"Cac3","pct":7.54},{"cog":"E","strain":"Cae","pct":11.19},{"cog":"E","strain":"Cau1","pct":10.28},{"cog":"E","strain":"Cau1\u200b","pct":8.45},{"cog":"E","strain":"Cau2","pct":9.82},{"cog":"E","strain":"Cbe1","pct":7.54},{"cog":"E","strain":"Cbe2","pct":7.99},{"cog":"E","strain":"Cbu1","pct":8.45},{"cog":"E","strain":"Cbu2","pct":8.91},{"cog":"E","strain":"Cbu3","pct":10.28},{"cog":"E","strain":"Cca1","pct":10.28},{"cog":"E","strain":"Cce","pct":8.45},{"cog":"E","strain":"Cce1","pct":8.45},{"cog":"E","strain":"Cdr1","pct":9.82},{"cog":"E","strain":"Cfo1","pct":10.73},{"cog":"E","strain":"Ckl1","pct":10.28},{"cog":"E","strain":"Ckl2","pct":10.28},{"cog":"E","strain":"Cle","pct":9.36},{"cog":"E","strain":"Clj1","pct":10.28},{"cog":"E","strain":"Clj2","pct":11.19},{"cog":"E","strain":"Cpa1","pct":8.45},{"cog":"E","strain":"Cpa2","pct":8.45},{"cog":"E","strain":"Cpa3","pct":8.45},{"cog":"E","strain":"Cph","pct":8.91},{"cog":"E","strain":"Cpsc","pct":8.45},{"cog":"E","strain":"Cra","pct":10.73},{"cog":"E","strain":"Csa1","pct":8.91},{"cog":"E","strain":"Csa2","pct":8.91},{"cog":"E","strain":"Csap1","pct":8.45},{"cog":"E","strain":"Csap2","pct":8.91},{"cog":"E","strain":"Csp1","pct":8.45},{"cog":"E","strain":"Csp2","pct":8.91},{"cog":"E","strain":"Csp3","pct":8.45},{"cog":"E","strain":"Cspo1","pct":9.36},{"cog":"E","strain":"Cspo2","pct":9.36},{"cog":"E","strain":"Cty1","pct":10.73},{"cog":"E","strain":"Cty2","pct":10.73},{"cog":"E","strain":"Dca","pct":10.73},{"cog":"E","strain":"Mth1","pct":8.91},{"cog":"E","strain":"Mth2","pct":9.36},{"cog":"E","strain":"Thth","pct":8.91},
{"cog":"D","strain":"Acl","pct":2.51},{"cog":"D","strain":"Ath1","pct":2.51},{"cog":"D","strain":"Ath2","pct":2.51},{"cog":"D","strain":"Ath3","pct":2.51},{"cog":"D","strain":"Bsu","pct":2.06},{"cog":"D","strain":"Cac1","pct":2.06},{"cog":"D","strain":"Cac2","pct":2.06},{"cog":"D","strain":"Cac3","pct":2.51},{"cog":"D","strain":"Cae","pct":1.14},{"cog":"D","strain":"Cau1","pct":2.06},{"cog":"D","strain":"Cau1\u200b","pct":2.06},{"cog":"D","strain":"Cau2","pct":2.06},{"cog":"D","strain":"Cbe1","pct":1.6},{"cog":"D","strain":"Cbe2","pct":1.6},{"cog":"D","strain":"Cbu1","pct":2.06},{"cog":"D","strain":"Cbu2","pct":2.06},{"cog":"D","strain":"Cbu3","pct":2.06},{"cog":"D","strain":"Cca1","pct":1.6},{"cog":"D","strain":"Cce","pct":2.06},{"cog":"D","strain":"Cce1","pct":2.06},{"cog":"D","strain":"Cdr1","pct":2.06},{"cog":"D","strain":"Cfo1","pct":1.6},{"cog":"D","strain":"Ckl1","pct":2.06},{"cog":"D","strain":"Ckl2","pct":2.06},{"cog":"D","strain":"Cle","pct":1.6},{"cog":"D","strain":"Clj1","pct":2.06},{"cog":"D","strain":"Clj2","pct":2.06},{"cog":"D","strain":"Cpa1","pct":2.06},{"cog":"D","strain":"Cpa2","pct":2.06},{"cog":"D","strain":"Cpa3","pct":2.06},{"cog":"D","strain":"Cph","pct":1.6},{"cog":"D","strain":"Cpsc","pct":1.6},{"cog":"D","strain":"Cra","pct":2.06},{"cog":"D","strain":"Csa1","pct":2.06},{"cog":"D","strain":"Csa2","pct":2.06},{"cog":"D","strain":"Csap1","pct":1.6},{"cog":"D","strain":"Csap2","pct":1.6},{"cog":"D","strain":"Csp1","pct":2.06},{"cog":"D","strain":"Csp2","pct":1.6},{"cog":"D","strain":"Csp3","pct":1.6},{"cog":"D","strain":"Cspo1","pct":1.6},{"cog":"D","strain":"Cspo2","pct":1.6},{"cog":"D","strain":"Cty1","pct":2.06},{"cog":"D","strain":"Cty2","pct":2.06},{"cog":"D","strain":"Dca","pct":2.51},{"cog":"D","strain":"Mth1","pct":2.51},{"cog":"D","strain":"Mth2","pct":2.51},{"cog":"D","strain":"Thth","pct":2.51},
{"cog":"C","strain":"Acl","pct":4.8},{"cog":"C","strain":"Ath1","pct":5.25},{"cog":"C","strain":"Ath2","pct":5.25},{"cog":"C","strain":"Ath3","pct":5.25},{"cog":"C","strain":"Bsu","pct":5.71},{"cog":"C","strain":"Cac1","pct":4.8},{"cog":"C","strain":"Cac2","pct":4.34},{"cog":"C","strain":"Cac3","pct":4.34},{"cog":"C","strain":"Cae","pct":7.54},{"cog":"C","strain":"Cau1","pct":7.54},{"cog":"C","strain":"Cau1\u200b","pct":5.25},{"cog":"C","strain":"Cau2","pct":7.08},{"cog":"C","strain":"Cbe1","pct":6.62},{"cog":"C","strain":"Cbe2","pct":6.62},{"cog":"C","strain":"Cbu1","pct":4.8},{"cog":"C","strain":"Cbu2","pct":4.8},{"cog":"C","strain":"Cbu3","pct":5.25},{"cog":"C","strain":"Cca1","pct":7.54},{"cog":"C","strain":"Cce","pct":4.8},{"cog":"C","strain":"Cce1","pct":5.25},{"cog":"C","strain":"Cdr1","pct":7.08},{"cog":"C","strain":"Cfo1","pct":7.54},{"cog":"C","strain":"Ckl1","pct":5.71},{"cog":"C","strain":"Ckl2","pct":5.71},{"cog":"C","strain":"Cle","pct":4.8},{"cog":"C","strain":"Clj1","pct":7.54},{"cog":"C","strain":"Clj2","pct":7.54},{"cog":"C","strain":"Cpa1","pct":6.17},{"cog":"C","strain":"Cpa2","pct":6.17},{"cog":"C","strain":"Cpa3","pct":6.17},{"cog":"C","strain":"Cph","pct":6.62},{"cog":"C","strain":"Cpsc","pct":6.17},{"cog":"C","strain":"Cra","pct":6.62},{"cog":"C","strain":"Csa1","pct":5.71},{"cog":"C","strain":"Csa2","pct":5.71},{"cog":"C","strain":"Csap1","pct":6.17},{"cog":"C","strain":"Csap2","pct":6.62},{"cog":"C","strain":"Csp1","pct":4.8},{"cog":"C","strain":"Csp2","pct":6.62},{"cog":"C","strain":"Csp3","pct":6.62},{"cog":"C","strain":"Cspo1","pct":6.17},{"cog":"C","strain":"Cspo2","pct":6.17},{"cog":"C","strain":"Cty1","pct":5.71},{"cog":"C","strain":"Cty2","pct":5.71},{"cog":"C","strain":"Dca","pct":9.36},{"cog":"C","strain":"Mth1","pct":9.36},{"cog":"C","strain":"Mth2","pct":9.36},{"cog":"C","strain":"Thth","pct":5.25},
{"cog":"B","strain":"Acl","pct":0.23},{"cog":"B","strain":"Ath1","pct":0.23},{"cog":"B","strain":"Ath2","pct":0.23},{"cog":"B","strain":"Ath3","pct":0.23},{"cog":"B","strain":"Bsu","pct":0.23},{"cog":"B","strain":"Cac1","pct":0.23},{"cog":"B","strain":"Cac2","pct":0.23},{"cog":"B","strain":"Cac3","pct":0.23},{"cog":"B","strain":"Cae","pct":0.23},{"cog":"B","strain":"Cau1","pct":0.23},{"cog":"B","strain":"Cau1\u200b","pct":0.23},{"cog":"B","strain":"Cau2","pct":0.23},{"cog":"B","strain":"Cbe1","pct":0.23},{"cog":"B","strain":"Cbe2","pct":0.23},{"cog":"B","strain":"Cbu1","pct":0.23},{"cog":"B","strain":"Cbu2","pct":0.23},{"cog":"B","strain":"Cbu3","pct":0.23},{"cog":"B","strain":"Cca1","pct":0.23},{"cog":"B","strain":"Cce","pct":0.23},{"cog":"B","strain":"Cce1","pct":0.23},{"cog":"B","strain":"Cdr1","pct":0.23},{"cog":"B","strain":"Cfo1","pct":0.23},{"cog":"B","strain":"Ckl1","pct":0.23},{"cog":"B","strain":"Ckl2","pct":0.23},{"cog":"B","strain":"Cle","pct":0.23},{"cog":"B","strain":"Clj1","pct":0.23},{"cog":"B","strain":"Clj2","pct":0.23},{"cog":"B","strain":"Cpa1","pct":0.23},{"cog":"B","strain":"Cpa2","pct":0.23},{"cog":"B","strain":"Cpa3","pct":0.23},{"cog":"B","strain":"Cph","pct":0.23},{"cog":"B","strain":"Cpsc","pct":0.23},{"cog":"B","strain":"Cra","pct":0.23},{"cog":"B","strain":"Csa1","pct":0.23},{"cog":"B","strain":"Csa2","pct":0.23},{"cog":"B","strain":"Csap1","pct":0.23},{"cog":"B","strain":"Csap2","pct":0.23},{"cog":"B","strain":"Csp1","pct":0.23},{"cog":"B","strain":"Csp2","pct":0.23},{"cog":"B","strain":"Csp3","pct":0.23},{"cog":"B","strain":"Cspo1","pct":0.23},{"cog":"B","strain":"Cspo2","pct":0.23},{"cog":"B","strain":"Cty1","pct":0.23},{"cog":"B","strain":"Cty2","pct":0.23},{"cog":"B","strain":"Dca","pct":0.23},{"cog":"B","strain":"Mth1","pct":0.23},{"cog":"B","strain":"Mth2","pct":0.23},{"cog":"B","strain":"Thth","pct":0.23}
]},
"mark":{"type":"rect"},
"encoding":{
"x":{"field":"strain","type":"nominal","sort":["Acl","Ath1","Ath2","Ath3","Bsu","Cac1","Cac2","Cac3","Cae","Cau1","Cau1\u200b","Cau2","Cbe1","Cbe2","Cbu1","Cbu2","Cbu3","Cca1","Cce","Cce1","Cdr1","Cfo1","Ckl1","Ckl2","Cle","Clj1","Clj2","Cpa1","Cpa2","Cpa3","Cph","Cpsc","Cra","Csa1","Csa2","Csap1","Csap2","Csp1","Csp2","Csp3","Cspo1","Cspo2","Cty1","Cty2","Dca","Mth1","Mth2","Thth"],"scale":{"paddingInner":0,"paddingOuter":0},"axis":{"title":"Strain Abbreviations","labelAngle":270,"labelFont":"Liberation Serif","labelFontStyle":"italic","labelFontSize":21,"labelColor":"black","labelPadding":3,"tickColor":"black","tickSize":8,"tickWidth":1.5,"domainColor":"black","domainWidth":1.5,"titleFont":"Liberation Serif","titleFontSize":33,"titleFontWeight":"normal","titleColor":"black","titlePadding":-3}},
"y":{"field":"cog","type":"nominal","sort":["Z","X","W","V","U","T","S","R","Q","P","O","N","M","L","K","J","I","H","G","F","E","D","C","B"],"scale":{"paddingInner":0.48,"paddingOuter":0.24},"axis":{"title":"COG Categories","labelFont":"Liberation Serif","labelFontSize":21,"labelColor":"black","labelPadding":3,"tickColor":"black","tickSize":8,"tickWidth":1.5,"domainColor":"black","domainWidth":1.5,"titleFont":"Liberation Serif","titleFontSize":36,"titleFontWeight":"normal","titleColor":"black","titlePadding":8,"titleY":280}},
"color":{"field":"pct","type":"quantitative","scale":{"type":"threshold","domain":[0.45667,0.91333,1.37,1.82667,2.28333,2.74,3.19667,3.65333,4.11,4.56667,5.02333,5.48,5.93667,6.39333,6.85,7.30667,7.76333,8.22,8.67667,9.13333,9.59,10.04667,10.50333,10.96,11.41667,11.87333,12.33,12.78667,13.24333,13.7],"range":["#9900ff","#8800ff","#7700ff","#6600ff","#5500ff","#4400ff","#3322ff","#2a3aff","#1a55ff","#0a70ff","#0090ff","#00aeff","#00ccff","#00eeff","#00ffdd","#00ffaa","#00ff77","#00ff44","#11ff00","#55ff00","#99ff00","#d4f000","#ffe000","#ffc400","#ffa500","#ff8800","#ff6600","#ff4400","#ff2200","#ff0000","#ffffff"]},
"legend":{"type":"gradient","title":"Percentage","orient":"none","legendX":-50,"legendY":-85,"direction":"horizontal","padding":0,"gradientLength":883,"gradientThickness":41,"gradientStrokeWidth":0,"titleOrient":"left","titleAnchor":"middle","titleBaseline":"line-top","titleLineHeight":16,"titleFont":"Liberation Serif","titleFontSize":24,"titleFontWeight":"normal","titleColor":"black","titlePadding":26,"labelFont":"Liberation Serif","labelFontSize":20,"labelColor":"black","labelOffset":16,"labelOverlap":false,"labelAlign":"center","labelExpr":"!isFinite(datum.value) ? '0' : (abs(datum.value/2.74 - round(datum.value/2.74)) < 0.005 ? (abs(datum.value - 10.96) < 0.01 ? '11' : format(datum.value, '.3~r')) : '')"}}
}}
